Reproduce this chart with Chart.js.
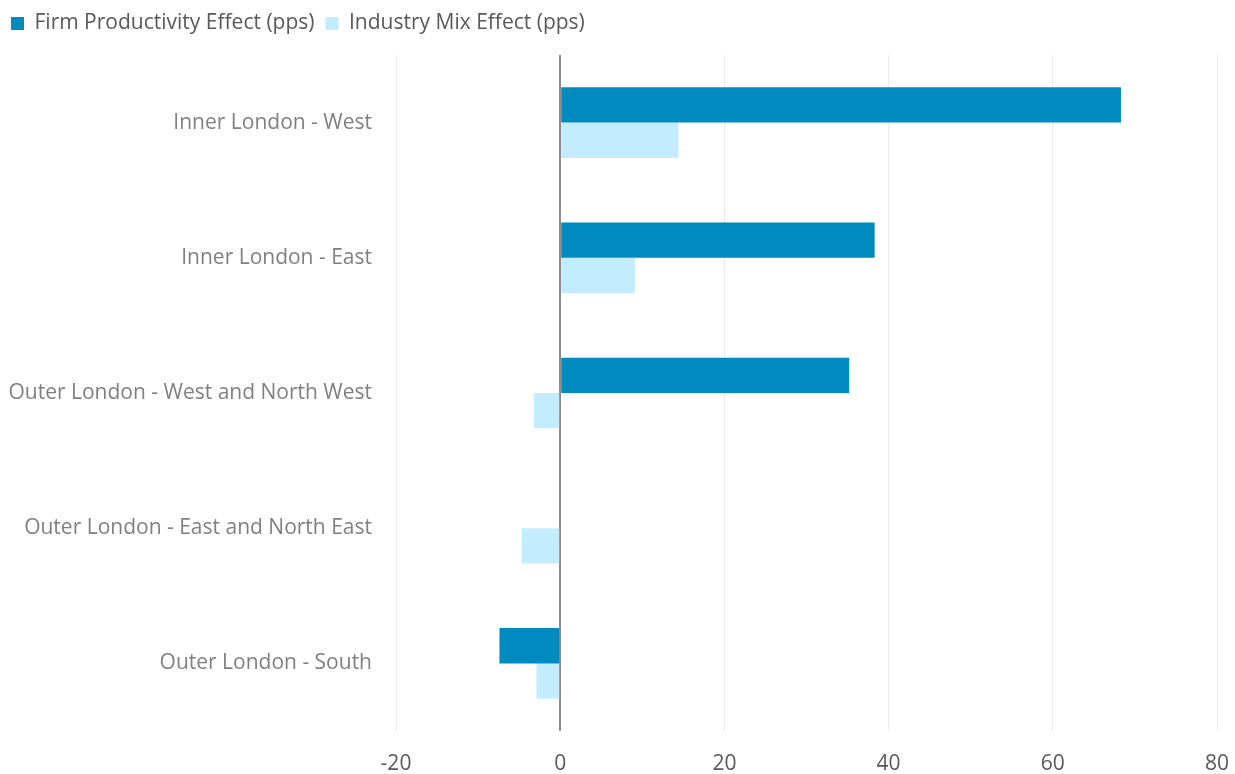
<!DOCTYPE html>
<html>
<head>
<meta charset="utf-8">
<script src="https://cdn.jsdelivr.net/npm/chart.js"></script>
<style>
  html, body { margin: 0; padding: 0; background: #fff; }
  #wrap { width: 1235px; height: 774px; }
</style>
</head>
<body>
<div id="wrap"><canvas id="chart" width="1235" height="774"></canvas></div>
<script>
const regions = [
  'Inner London - West',
  'Inner London - East',
  'Outer London - West and North West',
  'Outer London - East and North East',
  'Outer London - South'
];
const firmProductivity = [68.3, 38.3, 35.2, 0, -7.4];
const industryMix = [14.4, 9.1, -3.2, -4.7, -2.9];
const seriesNames = ['Firm Productivity Effect (pps)', 'Industry Mix Effect (pps)'];
const xTicks = [-20, 0, 20, 40, 60, 80];

const FONT = '"Open Sans", "Segoe UI", sans-serif';

// Pin the legend block height so the plot starts where intended
const legendHeight = {
  id: 'legendHeight',
  beforeInit(chart) {
    const fit = chart.legend.fit;
    chart.legend.fit = function () {
      fit.call(this);
      this.height = 53;
    };
  }
};

new Chart(document.getElementById('chart'), {
  type: 'bar',
  data: {
    labels: regions,
    datasets: [
      { label: seriesNames[0], data: firmProductivity, backgroundColor: '#008BC0' },
      { label: seriesNames[1], data: industryMix, backgroundColor: '#C3ECFF' }
    ]
  },
  options: {
    indexAxis: 'y',
    responsive: false,
    animation: false,
    devicePixelRatio: 1,
    categoryPercentage: 0.522,
    barPercentage: 1,
    layout: { padding: { left: 0, right: 18, top: 2, bottom: 0 } },
    plugins: {
      tooltip: { enabled: false },
      legend: {
        position: 'top',
        align: 'start',
        labels: {
          boxWidth: 13,
          boxHeight: 13,
          padding: 11,
          color: '#595959',
          font: { family: FONT, size: 21 }
        }
      }
    },
    scales: {
      x: {
        min: -20,
        max: 80,
        afterBuildTicks: (scale) => { scale.ticks = xTicks.map(v => ({ value: v })); },
        afterFit: (scale) => {
          scale.height = 43;
          scale.paddingLeft = 0;
          scale.paddingRight = 0;
        },
        border: { display: false },
        grid: {
          drawTicks: false,
          color: (ctx) => (ctx.tick && ctx.tick.value === 0) ? '#8c8c8c' : '#ebebeb',
          lineWidth: (ctx) => (ctx.tick && ctx.tick.value === 0) ? 2 : 1
        },
        ticks: {
          padding: 20,
          color: '#595959',
          font: { family: FONT, size: 21 }
        }
      },
      y: {
        afterFit: (scale) => { scale.width = 396; },
        border: { display: false },
        grid: { display: false, drawTicks: false },
        ticks: {
          padding: 24,
          color: '#808080',
          font: { family: FONT, size: 21 }
        }
      }
    }
  },
  plugins: [legendHeight]
});
</script>
</body>
</html>
